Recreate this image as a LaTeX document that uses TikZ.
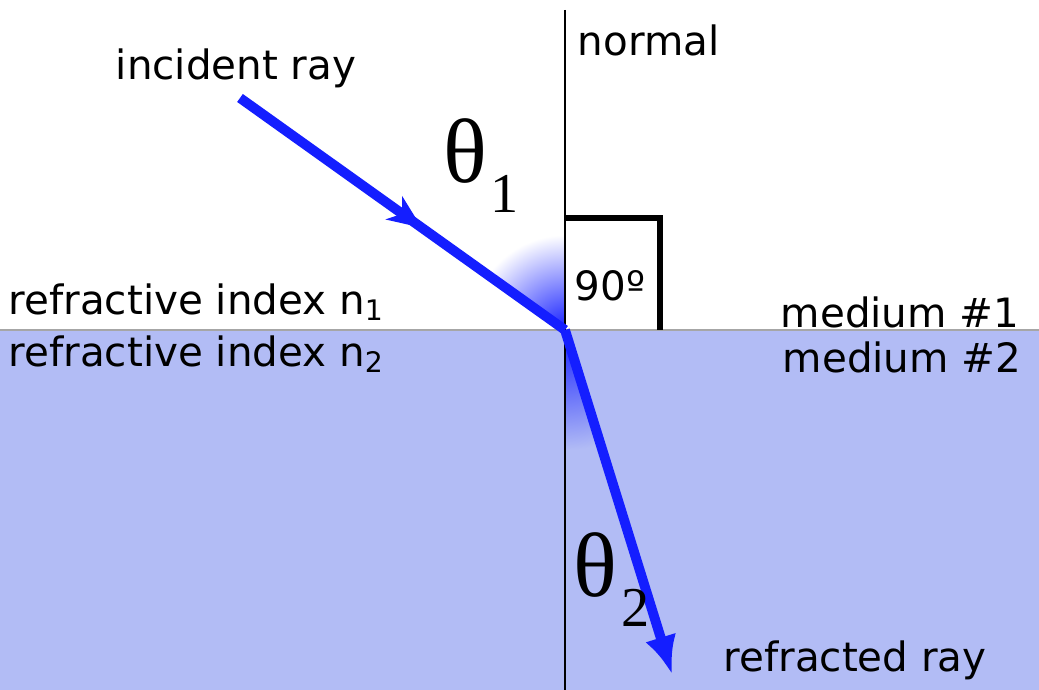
\documentclass[tikz,border=0pt]{standalone}
\usepackage{fontspec}
\setmainfont{DejaVu Sans}
\newfontfamily\thetafont{Liberation Serif}
\usepackage{xcolor}
\usetikzlibrary{positioning,arrows.meta,decorations.markings}

\definecolor{raylue}{RGB}{20,30,255}
\definecolor{mediumtwo}{RGB}{178,188,245}

\newcommand{\anglesub}[1]{\hspace{1pt}\raisebox{-8.5pt}{\fontsize{16}{16}\selectfont #1}}

\begin{document}
\begin{tikzpicture}[
        x=0.1mm, y=0.1mm,
        ray/.style={line width=2.8pt, draw=raylue},
        midarrow/.style={postaction={decorate}, decoration={markings,
            mark=at position 0.56 with {\arrow[raylue]{Stealth[length=3.4mm,width=2.8mm,inset=1mm]}}}},
        caption/.style={font=\fontsize{11.5}{13}\selectfont, inner sep=0pt},
        angletext/.style={font=\thetafont\fontsize{26}{28}\selectfont, inner sep=0pt, anchor=base west}
    ]
        \useasboundingbox (0,0) rectangle (1039,690);

        % lower medium
        \fill[mediumtwo] (0,0) rectangle (1039,360);
        \draw[gray!70, line width=0.6pt] (0,360) -- (1039,360);

        \coordinate (hit) at (565,360);
        \coordinate (src) at (240,592);
        \coordinate (dst) at (672,16);
        \coordinate (ntop) at (565,680);
        \coordinate (nbot) at (565,0);

        % glow between ray and normal
        \begin{scope}
            \clip (hit) -- ++(90:95) arc (90:144.5:95) -- cycle;
            \shade[inner color=raylue, outer color=white] (hit) circle (95);
        \end{scope}
        \begin{scope}
            \clip (hit) -- ++(270:120) arc (270:287.4:120) -- cycle;
            \shade[inner color=raylue, outer color=mediumtwo] (hit) circle (120);
        \end{scope}

        % normal and right angle
        \draw[line width=0.6pt] (ntop) -- (nbot);
        \draw[line width=1.5pt] (565,472) -- (660,472) -- (660,360);

        % rays
        \draw[ray, midarrow] (src) -- (hit);
        \draw[ray, -{Latex[length=3.8mm,width=3.2mm]}] (hit) -- (dst);

        % labels
        \node[caption] (inc) at (236,622) {incident ray};
        \node[caption, anchor=west] (nrm) at (577,650) {normal};
        \node[caption, anchor=west] (idx1) at (8,388) {refractive index n\textsubscript{1}};
        \node[caption, anchor=west] (idx2) at (8,336) {refractive index n\textsubscript{2}};
        \node[caption, anchor=east] (med1) at (1020,378) {medium \#1};
        \node[caption, anchor=east] (med2) at (1022,333) {medium \#2};
        \node[caption] (refr) at (855,30) {refracted ray};
        \node[caption] (right) at (610,404) {90º};
        \node[angletext] (th1) at (443,507) {θ\anglesub{1}};
        \node[angletext] (th2) at (573,93) {θ\anglesub{2}};
    \end{tikzpicture}
\end{document}
